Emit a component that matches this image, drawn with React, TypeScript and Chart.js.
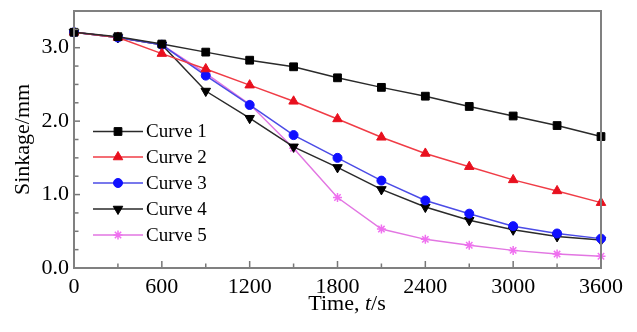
import React, { useEffect, useRef } from "react";
import { Chart, registerables } from "chart.js";
import { drawPoint } from "chart.js/helpers";

Chart.register(...registerables);

const times = [0, 300, 600, 900, 1200, 1500, 1800, 2100, 2400, 2700, 3000, 3300, 3600];
const curve1 = [3.21, 3.15, 3.05, 2.94, 2.83, 2.74, 2.59, 2.46, 2.34, 2.2, 2.07, 1.94, 1.79];
const curve2 = [3.21, 3.14, 2.92, 2.71, 2.49, 2.27, 2.03, 1.78, 1.56, 1.38, 1.2, 1.05, 0.89];
const curve3 = [3.21, 3.14, 3.04, 2.62, 2.22, 1.81, 1.5, 1.19, 0.92, 0.74, 0.57, 0.47, 0.4];
const curve4 = [3.21, 3.14, 3.04, 2.41, 2.04, 1.65, 1.37, 1.07, 0.83, 0.65, 0.52, 0.43, 0.38];
const curve5 = [3.21, 3.14, 3.04, 2.65, 2.23, 1.63, 0.96, 0.53, 0.39, 0.31, 0.24, 0.19, 0.16];
const labels = ["Curve 1", "Curve 2", "Curve 3", "Curve 4", "Curve 5"];
const xTicks = [0, 600, 1200, 1800, 2400, 3000, 3600];
const yTicks = [0, 1, 2, 3];

const SERIF = "'Liberation Serif', 'Times New Roman', serif";

const styles = [
  { line: "#2a2a2a", point: "#000000", shape: "rect", radius: 5.5, rot: 0 },
  { line: "#f03c46", point: "#e8101e", shape: "triangle", radius: 5.5, rot: 0 },
  { line: "#4b4be6", point: "#1010ff", shape: "circle", radius: 4.5, rot: 0 },
  { line: "#2a2a2a", point: "#000000", shape: "triangle", radius: 5.5, rot: 180 },
  { line: "#e276e2", point: "#f070f0", shape: "star", radius: 4.5, rot: 0 },
];

const series = [curve1, curve2, curve3, curve4, curve5];

const decorPlugin = {
  id: "decor",
  afterDatasetsDraw(chart: any) {
    const { ctx, chartArea } = chart;
    const { left, right, top, bottom } = chartArea;
    const xs = chart.scales.x;
    const ys = chart.scales.y;
    ctx.save();
    // ticks inside
    ctx.strokeStyle = "#777";
    ctx.lineWidth = 1.5;
    for (let t = 300; t < 3600; t += 300) {
      const px = xs.getPixelForValue(t);
      const len = t % 600 === 0 ? 7 : 4.5;
      ctx.beginPath();
      ctx.moveTo(px, bottom);
      ctx.lineTo(px, bottom - len);
      ctx.stroke();
    }
    for (let v = 0.25; v < 3.5; v += 0.25) {
      const py = ys.getPixelForValue(v);
      const len = Math.abs(v - Math.round(v)) < 1e-6 ? 6 : 4.5;
      ctx.beginPath();
      ctx.moveTo(left, py);
      ctx.lineTo(left + len, py);
      ctx.stroke();
    }
    // border
    ctx.strokeStyle = "#808080";
    ctx.lineWidth = 2;
    ctx.strokeRect(left, top, right - left, bottom - top);

    // legend
    const rows = [131.5, 157, 183, 209, 235];
    ctx.textBaseline = "middle";
    ctx.textAlign = "left";
    for (let i = 0; i < 5; i++) {
      const s = styles[i];
      const y = rows[i];
      ctx.strokeStyle = s.line;
      ctx.lineWidth = 1.5;
      ctx.beginPath();
      ctx.moveTo(93, y);
      ctx.lineTo(143, y);
      ctx.stroke();
      ctx.fillStyle = s.point;
      ctx.strokeStyle = s.point;
      ctx.lineWidth = s.shape === "star" ? 1.5 : 1;
      drawPoint(ctx, { pointStyle: s.shape as any, radius: s.radius, rotation: s.rot, borderWidth: ctx.lineWidth } as any, 118, y);
      ctx.fillStyle = "#000";
      ctx.font = "19px " + SERIF;
      ctx.fillText(labels[i], 146, y + 1);
    }

    // x title with italic t
    ctx.fillStyle = "#000";
    ctx.textBaseline = "alphabetic";
    const parts = [
      { t: "Time, ", f: "22px " + SERIF },
      { t: "t", f: "italic 22px " + SERIF },
      { t: "/s", f: "22px " + SERIF },
    ];
    let w = 0;
    for (const p of parts) {
      ctx.font = p.f;
      w += ctx.measureText(p.t).width;
    }
    let x = 347 - w / 2;
    for (const p of parts) {
      ctx.font = p.f;
      ctx.fillText(p.t, x, 310);
      x += ctx.measureText(p.t).width;
    }
    ctx.restore();
  },
};

export default function App() {
  const ref = useRef<HTMLCanvasElement>(null);
  useEffect(() => {
    if (!ref.current) return;
    const chart = new Chart(ref.current, {
      type: "line",
      data: {
        datasets: series.map((arr, i) => ({
          label: labels[i],
          data: arr.map((v, j) => ({ x: times[j], y: v })),
          borderColor: styles[i].line,
          backgroundColor: styles[i].point,
          pointBackgroundColor: styles[i].point,
          pointBorderColor: styles[i].point,
          pointBorderWidth: styles[i].shape === "star" ? 1.5 : 1,
          pointStyle: styles[i].shape as any,
          pointRotation: styles[i].rot,
          pointRadius: styles[i].radius,
          borderWidth: 1.5,
          tension: 0,
          fill: false,
          clip: false as any,
        })),
      },
      options: {
        responsive: false,
        animation: false,
        layout: { padding: { top: 11, right: 36, left: 0, bottom: 0 } },
        plugins: { legend: { display: false }, tooltip: { enabled: false } },
        scales: {
          x: {
            type: "linear",
            min: 0,
            max: 3600,
            afterBuildTicks: (s: any) => {
              s.ticks = xTicks.map((v) => ({ value: v }));
            },
            afterFit: (s: any) => {
              s.height = 64;
              s.paddingLeft = 0;
              s.paddingRight = 0;
            },
            grid: { display: false, drawTicks: false },
            border: { display: false },
            ticks: {
              color: "#000",
              font: { family: SERIF, size: 22 },
              padding: 6,
              maxRotation: 0,
              autoSkip: false,
              callback: (v: any) => String(v),
            },
          },
          y: {
            type: "linear",
            min: 0,
            max: 3.5,
            afterBuildTicks: (s: any) => {
              s.ticks = yTicks.map((v) => ({ value: v }));
            },
            afterFit: (s: any) => {
              s.width = 74;
              s.paddingTop = 0;
              s.paddingBottom = 0;
            },
            grid: { display: false, drawTicks: false },
            border: { display: false },
            ticks: {
              color: "#000",
              font: { family: SERIF, size: 22 },
              padding: 5,
              callback: (v: any) => Number(v).toFixed(1),
            },
            title: {
              display: true,
              text: "Sinkage/mm",
              color: "#000",
              font: { family: SERIF, size: 22 },
              padding: { top: 10, bottom: 0 },
            },
          },
        },
      },
      plugins: [decorPlugin],
    });
    return () => chart.destroy();
  }, []);
  return (
    <div style={{ position: "fixed", left: 0, top: 0, width: 637, height: 332, background: "#fff" }}>
      <canvas ref={ref} width={637} height={332} />
    </div>
  );
}
